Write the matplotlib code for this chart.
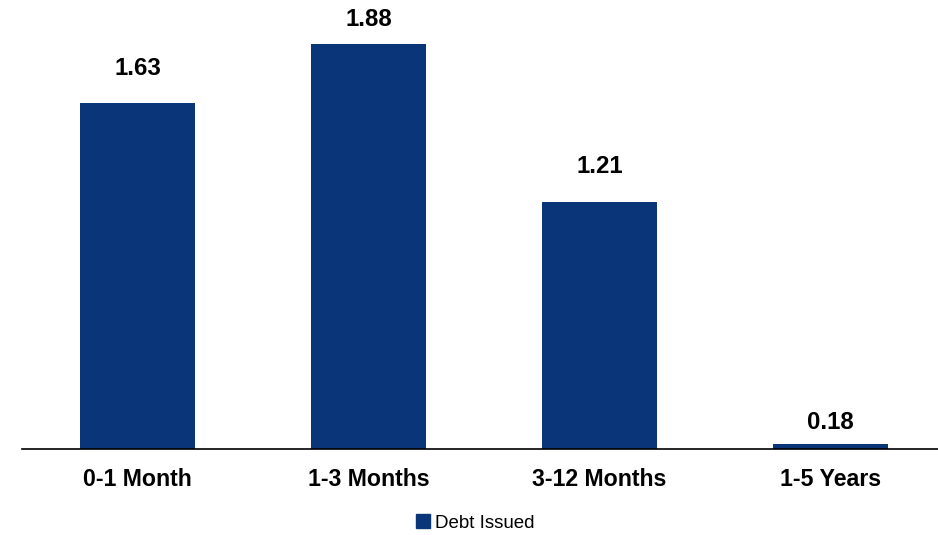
import matplotlib
matplotlib.use("Agg")
import matplotlib.pyplot as plt
from matplotlib.patches import Patch

categories = ["0-1 Month", "1-3 Months", "3-12 Months", "1-5 Years"]
debt_issued = [1.63, 1.88, 1.21, 0.18]
series_name = "Debt Issued"

# label gaps above bar tops (pixels), style only
label_gap_px = [28, 18.5, 29, 15]

plt.rcParams['font.family'] = ['Liberation Sans', 'DejaVu Sans']
color = "#0A3578"

W, H = 938, 535
fig = plt.figure(figsize=(W/100, H/100), dpi=100)
ymin, ymax = 0.1575, 2.0
ppu = 235.1
base_px = 449
top_px = base_px - (ymax - ymin) * ppu
ax = fig.add_axes([22/W, (H - base_px)/H, 924/W, (base_px - top_px)/H])
x = range(len(categories))
bars = ax.bar(x, debt_issued, width=0.5, color=color, bottom=0, zorder=2)
ax.set_xlim(-0.5, 3.5)
ax.set_ylim(ymin, ymax)
for s in ['top', 'right', 'left']:
    ax.spines[s].set_visible(False)
ax.spines['bottom'].set_color('black')
ax.spines['bottom'].set_linewidth(1.2)
ax.spines['bottom'].set_zorder(3)
ax.set_yticks([])
ax.set_xticks(list(x))
ax.set_xticklabels(categories, fontsize=16.7, fontweight='bold')
ax.tick_params(axis='x', length=0, pad=14)
for xi, v, g in zip(x, debt_issued, label_gap_px):
    ax.annotate(f"{v:.2f}", (xi, v), xytext=(0, g * 0.72), textcoords='offset points',
                ha='center', va='baseline', fontsize=17.3, fontweight='bold', annotation_clip=False)

fig.legend(handles=[Patch(color=color, label=series_name)], loc='center',
           bbox_to_anchor=(475/W, 1 - 523/H), frameon=False, fontsize=13.5,
           handlelength=0.75, handleheight=0.75, handletextpad=0.25)
fig.savefig("out.png", dpi=100)
